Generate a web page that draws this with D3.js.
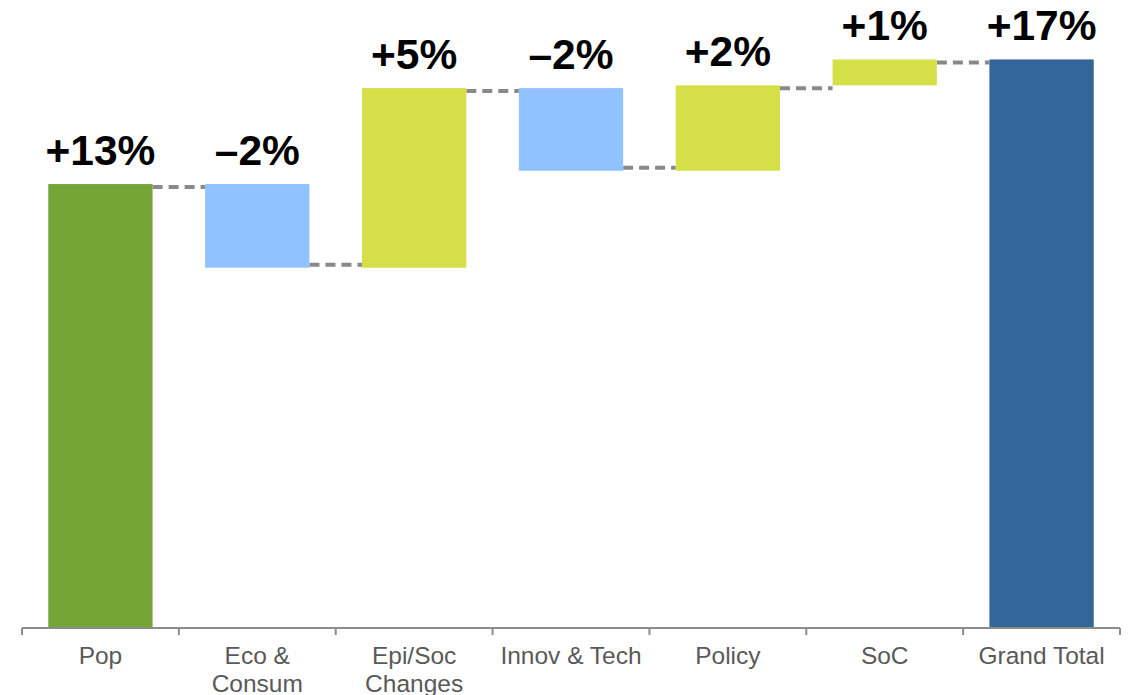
<!DOCTYPE html>
<html>
<head>
<meta charset="utf-8">
<script src="https://cdn.jsdelivr.net/npm/d3@7"></script>
<style>
  html, body { margin: 0; padding: 0; background: #fff; }
  svg { display: block; }
</style>
</head>
<body>
<svg id="chart" width="1132" height="695"></svg>
<script>
// ---- data ----
const categories = ["Pop", "Eco & Consum", "Epi/Soc Changes", "Innov & Tech", "Policy", "SoC", "Grand Total"];
const categoryLines = [["Pop"], ["Eco &", "Consum"], ["Epi/Soc", "Changes"], ["Innov & Tech"], ["Policy"], ["SoC"], ["Grand Total"]];
const changes = [13.0, -2.45, 5.26, -2.42, 2.50, 0.76, 16.65];
const isTotal = [false, false, false, false, false, false, true];
const valueLabels = ["+13%", "\u20132%", "+5%", "\u20132%", "+2%", "+1%", "+17%"];
const barColors = ["#74A535", "#90C2FF", "#D5E048", "#90C2FF", "#D5E048", "#D5E048", "#336699"];

// ---- build waterfall ----
let run = 0;
const bars = categories.map((c, i) => {
  let start, end;
  if (i === 0 || isTotal[i]) { start = 0; end = changes[i]; }
  else { start = run; end = run + changes[i]; }
  run = end;
  return { cat: c, lines: categoryLines[i], start, end, label: valueLabels[i], color: barColors[i], i };
});

const svg = d3.select("#chart");
const x = d3.scaleBand().domain(categories).range([22, 1120]).paddingInner(0.335).paddingOuter(0.1675);
const y = d3.scaleLinear().domain([0, 18.39]).range([628, 0]);

// connectors
const conn = [];
for (let i = 0; i < bars.length - 1; i++) {
  const b = bars[i];
  const level = b.end;
  const dir = b.end >= b.start ? 1 : -1;
  conn.push({ x1: x(b.cat) + x.bandwidth(), x2: x(bars[i + 1].cat), yv: level, off: 3 * dir });
}
svg.append("g").selectAll("line").data(conn).join("line")
  .attr("x1", d => d.x1).attr("x2", d => d.x2)
  .attr("y1", d => y(d.yv) + d.off).attr("y2", d => y(d.yv) + d.off)
  .attr("stroke", "#898989").attr("stroke-width", 4)
  .attr("stroke-dasharray", "10,6");

// bars
svg.append("g").selectAll("rect").data(bars).join("rect")
  .attr("x", d => x(d.cat))
  .attr("width", x.bandwidth())
  .attr("y", d => y(Math.max(d.start, d.end)))
  .attr("height", d => Math.abs(y(d.start) - y(d.end)))
  .attr("fill", d => d.color);

// value labels
svg.append("g").selectAll("text").data(bars).join("text")
  .attr("x", d => x(d.cat) + x.bandwidth() / 2)
  .attr("y", d => y(Math.max(d.start, d.end)) - 19)
  .attr("text-anchor", "middle")
  .attr("font-family", "'Liberation Sans', Arial, sans-serif")
  .attr("font-weight", "bold")
  .attr("font-size", 42.5)
  .attr("fill", "#000")
  .text(d => d.label);

// axis
const axisG = svg.append("g").attr("transform", `translate(0,${y(0)})`);
const edges = d3.range(categories.length + 1).map(i => 22 + i * (1098 / categories.length));
axisG.append("line").attr("x1", 22).attr("x2", 1120).attr("y1", 0).attr("y2", 0)
  .attr("stroke", "#8C8C8C").attr("stroke-width", 2);
axisG.selectAll("line.tick").data(edges).join("line").attr("class", "tick")
  .attr("x1", d => d).attr("x2", d => d).attr("y1", 0).attr("y2", 7)
  .attr("stroke", "#8C8C8C").attr("stroke-width", 2);

const lbl = axisG.selectAll("text.cat").data(bars).join("text").attr("class", "cat")
  .attr("text-anchor", "middle")
  .attr("font-family", "'Liberation Sans', Arial, sans-serif")
  .attr("font-size", 24.5)
  .attr("fill", "#595959")
  .attr("transform", d => `translate(${x(d.cat) + x.bandwidth() / 2},36)`);
lbl.selectAll("tspan").data(d => d.lines).join("tspan")
  .attr("x", 0).attr("dy", (d, i) => i === 0 ? 0 : 28)
  .text(d => d);
</script>
</body>
</html>
